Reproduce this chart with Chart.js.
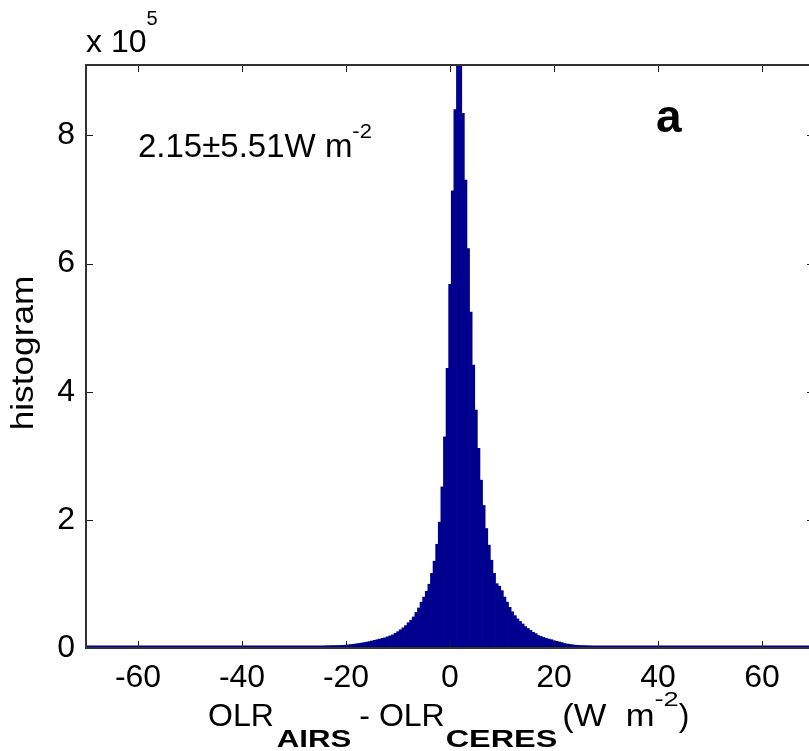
<!DOCTYPE html>
<html>
<head>
<meta charset="utf-8">
<title>OLR AIRS - CERES histogram</title>
<script src="https://cdn.jsdelivr.net/npm/chart.js@4/dist/chart.umd.min.js"></script>
<style>
  html, body { margin: 0; padding: 0; background: #fff; overflow: hidden; }
  #wrap { width: 809px; height: 751px; overflow: hidden; }
</style>
</head>
<body>
<div id="wrap"><canvas id="histChart" width="815" height="751"></canvas></div>
<script>
// histogram bins: centre of bin i is binStart + i * binWidth
const binStart = -30;
const binWidth = 0.5;
// counts per bin, in units of 10^5
const counts = [
  0.003, 0.003, 0.004, 0.004, 0.005, 0.005, 0.006, 0.007, 0.008, 0.009,
  0.010, 0.015, 0.035, 0.037, 0.038, 0.040, 0.040, 0.042, 0.044, 0.046,
  0.050, 0.055, 0.060, 0.064, 0.070, 0.076, 0.082, 0.090, 0.097, 0.105,
  0.115, 0.125, 0.135, 0.145, 0.155, 0.165, 0.180, 0.195, 0.210, 0.235,
  0.260, 0.290, 0.320, 0.355, 0.400, 0.440, 0.490, 0.560, 0.630, 0.720,
  0.800, 0.890, 1.000, 1.170, 1.360, 1.625, 1.970, 2.520, 3.300, 4.370,
  5.680, 7.140, 8.410, 9.600, 9.500, 8.350, 7.310, 6.240, 5.250, 4.420,
  3.720, 3.120, 2.625, 2.230, 1.870, 1.610, 1.375, 1.170, 1.010, 0.970,
  0.900, 0.800, 0.720, 0.640, 0.570, 0.510, 0.460, 0.420, 0.380, 0.340,
  0.310, 0.280, 0.250, 0.230, 0.200, 0.185, 0.170, 0.155, 0.145, 0.135,
  0.120, 0.110, 0.100, 0.090, 0.075, 0.068, 0.062, 0.056, 0.050, 0.046,
  0.043, 0.040, 0.038, 0.036, 0.034, 0.025, 0.022, 0.020, 0.012, 0.008,
  0.006, 0.005, 0.004, 0.003, 0.003
];
const xTickValues = [-60, -40, -20, 0, 20, 40, 60];
const yTickValues = [0, 2, 4, 6, 8];
const xRange = [-70, 70];
const yRange = [0, 9.1];
const yTitle = 'histogram';
const statsText = '2.15\u00b15.51W m';
const statsSup = '-2';
const panelLabel = 'a';

const navy = 'rgb(0,0,143)';
const fontName = "'Liberation Sans', Arial, Helvetica, sans-serif";

const points = counts.map((c, i) => ({ x: binStart + i * binWidth, y: c }));

function line(ctx, x1, y1, x2, y2) {
  ctx.beginPath();
  ctx.moveTo(x1, y1);
  ctx.lineTo(x2, y2);
  ctx.stroke();
}

// draws a row of text pieces (used for sub/superscripts), sx = horizontal stretch
function drawRuns(ctx, runs, x, y) {
  runs.forEach(r => {
    const sx = r.sx || 1;
    ctx.font = (r.bold ? 'bold ' : '') + r.size + 'px ' + fontName;
    ctx.save();
    ctx.translate(x, y + (r.dy || 0));
    ctx.scale(sx, 1);
    ctx.fillText(r.text, 0, 0);
    ctx.restore();
    x += ctx.measureText(r.text).width * sx + (r.gap || 0);
  });
}

// matlab style box, inward ticks and extra labels
const matlabFrame = {
  id: 'matlabFrame',
  afterDatasetsDraw(chart) {
    const { ctx, chartArea: a, scales: { x, y } } = chart;
    ctx.save();
    const y0 = y.getPixelForValue(0);
    ctx.strokeStyle = navy;
    ctx.lineWidth = 2;
    line(ctx, a.left, y0 - 1.5, a.right, y0 - 1.5);

    ctx.strokeStyle = '#1a1a1a';
    ctx.lineWidth = 1;
    xTickValues.forEach(v => {
      const px = Math.round(x.getPixelForValue(v)) + 0.5;
      line(ctx, px, a.bottom, px, a.bottom - 7);
      line(ctx, px, a.top, px, a.top + 7);
    });
    yTickValues.forEach(v => {
      const py = Math.round(y.getPixelForValue(v)) + 0.5;
      line(ctx, a.left, py, a.left + 7, py);
      line(ctx, a.right, py, a.right - 7, py);
    });
    ctx.lineWidth = 2;
    ctx.strokeStyle = '#333';
    ctx.strokeRect(a.left, a.top, a.right - a.left, a.bottom - a.top);
    ctx.restore();
  },
  afterDraw(chart) {
    const { ctx, chartArea: a } = chart;
    ctx.save();
    ctx.fillStyle = '#000';
    ctx.textBaseline = 'alphabetic';
    ctx.textAlign = 'left';

    // axis multiplier
    drawRuns(ctx, [
      { text: 'x 10', size: 32 },
      { text: '5', size: 20, dy: -27 }
    ], a.left, 52);

    // mean and std
    drawRuns(ctx, [
      { text: statsText, size: 33 },
      { text: statsSup, size: 20, dy: -19, sx: 1.1 }
    ], 138, 157);

    // panel letter
    ctx.font = 'bold 46px ' + fontName;
    ctx.fillText(panelLabel, 656, 132);

    // x axis title
    drawRuns(ctx, [
      { text: 'OLR', size: 32, gap: 3 },
      { text: 'AIRS', size: 24, bold: true, dy: 21, sx: 1.3, gap: 8 },
      { text: '- OLR', size: 32, gap: 1 },
      { text: 'CERES', size: 24, bold: true, dy: 21, sx: 1.35, gap: 5 },
      { text: '(W  m', size: 32, sx: 1.08 },
      { text: '-2', size: 21, dy: -20, sx: 1.3 },
      { text: ')', size: 32 }
    ], 208, 726);

    // y axis title
    ctx.save();
    ctx.translate(33, 353);
    ctx.rotate(-Math.PI / 2);
    ctx.scale(1.1, 1);
    ctx.textAlign = 'center';
    ctx.font = '32px ' + fontName;
    ctx.fillText(yTitle, 0, 0);
    ctx.restore();

    ctx.restore();
  }
};

const config = {
  type: 'bar',
  data: {
    datasets: [{
      label: 'histogram',
      data: points,
      backgroundColor: navy,
      borderWidth: 0,
      barPercentage: 1.3,
      categoryPercentage: 1
    }]
  },
  options: {
    responsive: false,
    animation: false,
    layout: { padding: { left: 0, top: 65, right: 1, bottom: 0 } },
    plugins: {
      legend: { display: false },
      tooltip: { enabled: false }
    },
    scales: {
      x: {
        type: 'linear',
        min: xRange[0],
        max: xRange[1],
        offset: false,
        afterBuildTicks: s => { s.ticks = xTickValues.map(v => ({ value: v })); },
        afterFit: s => { s.height = 103; },
        grid: { display: false, drawTicks: false },
        border: { display: false },
        ticks: {
          padding: 11,
          maxRotation: 0,
          autoSkip: false,
          color: '#000',
          font: { family: fontName, size: 32 }
        }
      },
      y: {
        min: yRange[0],
        max: yRange[1],
        afterBuildTicks: s => { s.ticks = yTickValues.map(v => ({ value: v })); },
        afterFit: s => { s.width = 86; },
        grid: { display: false, drawTicks: false },
        border: { display: false },
        ticks: {
          padding: 11,
          color: '#000',
          font: { family: fontName, size: 32 }
        }
      }
    }
  },
  plugins: [matlabFrame]
};

const histChart = new Chart(document.getElementById('histChart'), config);
</script>
</body>
</html>
